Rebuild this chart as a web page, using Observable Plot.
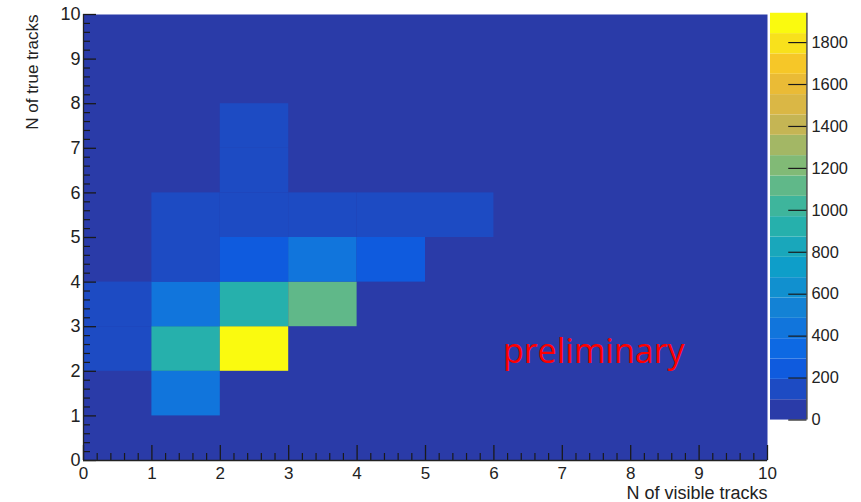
<!DOCTYPE html>
<html><head><meta charset="utf-8">
<script src="https://cdn.jsdelivr.net/npm/d3@7"></script>
<script src="https://cdn.jsdelivr.net/npm/@observablehq/plot@0.6"></script>
<style>
html,body{margin:0;padding:0;background:#fff;}
#wrap{position:relative;width:861px;height:502px;overflow:hidden;}
#cb{position:absolute;left:770px;top:0;width:83px;height:502px;overflow:hidden;}
</style></head><body><div id="wrap"><div id="main"></div><div id="cb"></div></div>
<script>
// ---- data ----
const visibleTracks = [1, 0, 1, 2, 0, 1, 2, 3, 1, 2, 3, 4, 1, 2, 3, 4, 5, 2, 2];
const trueTracks    = [1, 2, 2, 2, 3, 3, 3, 3, 4, 4, 4, 4, 5, 5, 5, 5, 5, 6, 7];
const counts        = [400, 170, 950, 1930, 170, 400, 950, 1100, 150, 250, 400, 250, 150, 150, 150, 150, 150, 150, 150];
const axisTicks = [0, 1, 2, 3, 4, 5, 6, 7, 8, 9, 10];
const colorTicks = [0, 200, 400, 600, 800, 1000, 1200, 1400, 1600, 1800];
const zMax = 1940;
const nContours = 20;
const xTitle = "N of visible tracks";
const yTitle = "N of true tracks";
const stamp = [{x: 7.46, y: 2.42, label: "preliminary"}];

// ---- palette (bird-like, tuned to the picture) ----
const paletteStops = [
  [0.000, [42, 59, 168]],
  [0.125, [10, 97, 232]],
  [0.250, [20, 126, 214]],
  [0.375, [14, 160, 200]],
  [0.500, [45, 180, 165]],
  [0.625, [125, 186, 120]],
  [0.750, [205, 180, 80]],
  [0.875, [245, 190, 45]],
  [1.000, [250, 250, 15]]
];
function paletteAt(f) {
  for (let i = 1; i < paletteStops.length; i++) {
    const [f1, c1] = paletteStops[i];
    const [f0, c0] = paletteStops[i - 1];
    if (f <= f1 + 1e-9) {
      const t = (f - f0) / (f1 - f0);
      return d3.rgb(...c0.map((v, k) => Math.round(v + (c1[k] - v) * t))).formatHex();
    }
  }
  return d3.rgb(...paletteStops[paletteStops.length - 1][1]).formatHex();
}
const step = zMax / nContours;
const bandColors = d3.range(nContours).map(i => paletteAt(i / (nContours - 1)));
const thresholds = d3.range(1, nContours).map(i => i * step);
const colorScale = {type: "threshold", domain: thresholds, range: bandColors};

const cells = counts.map((c, i) => ({x: visibleTracks[i], y: trueTracks[i], c}));
const bands = d3.range(nContours).map(i => ({y1: i * step, y2: (i + 1) * step, mid: (i + 0.5) * step}));

const minorX = d3.range(0, 50).map(i => i / 5).filter(v => Math.abs(v - Math.round(v)) > 1e-6);
const minorY = minorX;

const W = 861, H = 502;
const mL = 83, mR = 94, mT = 14, mB = 42;
const fw = W - mL - mR, fh = H - mT - mB;
const font = "'Liberation Sans', Arial, Helvetica, sans-serif";

const main = Plot.plot({
  width: W, height: H,
  marginLeft: mL, marginRight: mR, marginTop: mT, marginBottom: mB,
  style: {fontFamily: font, fontSize: "18px", color: "#222", background: "#fff"},
  x: {domain: [0, 10], axis: null},
  y: {domain: [0, 10], axis: null},
  color: colorScale,
  marks: [
    Plot.frame({fill: bandColors[0], stroke: null}),
    Plot.rect(cells, {x1: "x", x2: d => d.x + 1, y1: "y", y2: d => d.y + 1, fill: "c", inset: 0}),
    Plot.text(stamp, {x: "x", y: "y", text: "label", fill: "#ff0000", fontSize: 34,
      fontFamily: "'Open Sans', sans-serif", style: "letter-spacing:0.2px", lineAnchor: "middle"}),
    // inward ticks
    Plot.ruleX(axisTicks, {x: d => d, insetTop: fh - 15, stroke: "#1a1a1a", strokeWidth: 1.3}),
    Plot.ruleX(minorX, {x: d => d, insetTop: fh - 7, stroke: "#1a1a1a", strokeWidth: 1.2}),
    Plot.ruleY(axisTicks, {y: d => d, insetRight: fw - 13, stroke: "#1a1a1a", strokeWidth: 1.3}),
    Plot.ruleY(minorY, {y: d => d, insetRight: fw - 7, stroke: "#1a1a1a", strokeWidth: 1.2}),
    Plot.ruleX([0], {stroke: "#222", strokeWidth: 1.3}),
    Plot.ruleY([0], {stroke: "#222", strokeWidth: 1.3}),
    // tick labels
    Plot.axisX({ticks: axisTicks, tickSize: 0, tickPadding: 6, tickFormat: d => String(d), fontSize: 17, label: null}),
    Plot.axisY({ticks: axisTicks, tickSize: 0, tickPadding: 3, tickFormat: d => String(d), fontSize: 18, label: null}),
    // axis titles
    Plot.text([xTitle], {frameAnchor: "bottom-right", textAnchor: "end", lineAnchor: "middle", dy: 33, fontSize: 18, fill: "#222"}),
    Plot.text([yTitle], {frameAnchor: "top-left", textAnchor: "end", lineAnchor: "middle", rotate: -90, dx: -51, fontSize: 17, fill: "#222"})
  ]
});
document.getElementById("main").appendChild(main);

const cb = Plot.plot({
  width: 91, height: H,
  marginLeft: 0, marginRight: 51, marginTop: mT, marginBottom: mB,
  style: {fontFamily: font, fontSize: "18px", color: "#222", background: "transparent", overflow: "visible"},
  x: {domain: [0, 1], axis: null},
  y: {domain: [0, zMax], axis: null},
  color: colorScale,
  marks: [
    Plot.rect(bands, {x1: 0, x2: 1, y1: "y1", y2: "y2", fill: "mid"}),
    Plot.ruleY(colorTicks, {y: d => d, insetLeft: 20, stroke: "#1a1a1a", strokeWidth: 1.3}),
    Plot.ruleX([1], {stroke: "#222", strokeWidth: 1.3}),
    Plot.axisY({anchor: "right", ticks: colorTicks, tickSize: 0, tickPadding: 5, tickFormat: d => String(d), fontSize: 18, label: null})
  ]
});
document.getElementById("cb").appendChild(cb);
</script></body></html>
